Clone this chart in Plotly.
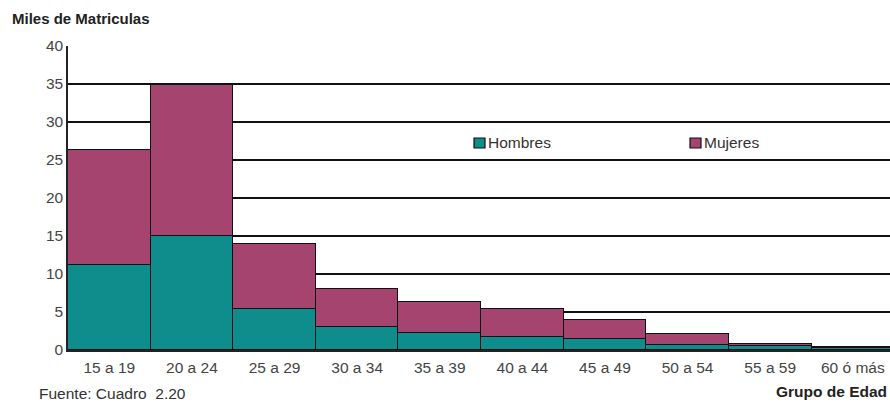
import plotly.graph_objects as go

# Enrollment (thousands) by age group, split by sex
grupos = ["15 a 19", "20 a 24", "25 a 29", "30 a 34", "35 a 39",
          "40 a 44", "45 a 49", "50 a 54", "55 a 59", "60 ó más"]
hombres = [11.2, 15.0, 5.4, 3.0, 2.2, 1.7, 1.4, 0.7, 0.5, 0.2]
mujeres = [15.1, 19.9, 8.5, 5.0, 4.1, 3.7, 2.5, 1.4, 0.3, 0.2]
y_ticks = [0, 5, 10, 15, 20, 25, 30, 35, 40]

COLOR_H = "#0f8c8c"
COLOR_M = "#a64470"
FONT = "Liberation Sans, Arial, sans-serif"
FS = 15.5

fig = go.Figure()
fig.add_trace(go.Bar(x=grupos, y=hombres, name="Hombres",
                     marker=dict(color=COLOR_H, line=dict(color="#111", width=1.5))))
fig.add_trace(go.Bar(x=grupos, y=mujeres, name="Mujeres",
                     marker=dict(color=COLOR_M, line=dict(color="#111", width=1.5))))

L, R, T, B = 68, 0, 46, 54
W, H = 890, 404

fig.update_layout(
    width=W, height=H,
    barmode="stack", bargap=0,
    showlegend=False,
    plot_bgcolor="white", paper_bgcolor="white",
    margin=dict(l=L, r=R, t=T, b=B),
    font=dict(family=FONT, size=FS, color="#333"),
    # the last age group runs off the right edge of the plot area
    xaxis=dict(showgrid=False, showline=True, linecolor="#222", linewidth=1.5,
               ticks="", tickfont=dict(size=FS, color="#444"),
               range=[-0.5, 9.45], ticklabelstandoff=3),
    yaxis=dict(range=[0, 40], tickvals=y_ticks, showgrid=True,
               gridcolor="#111", gridwidth=1.5, zeroline=False,
               showline=True, linecolor="#222", linewidth=1.5,
               ticks="", tickfont=dict(size=FS, color="#444"),
               ticklabelstandoff=0),
)

# Legend entries: small outlined squares followed by the series name
pw = W - L - R
def px_to_paper_x(px):
    return (px - L) / pw

ph = H - T - B
def px_to_paper_y(py):
    return (H - B - py) / ph

for name, color, x0 in [("Hombres", COLOR_H, 474), ("Mujeres", COLOR_M, 690)]:
    fig.add_shape(type="rect", xref="paper", yref="paper",
                  x0=px_to_paper_x(x0), x1=px_to_paper_x(x0 + 11),
                  y0=px_to_paper_y(148), y1=px_to_paper_y(138),
                  fillcolor=color, line=dict(color="#111", width=1.2))
    fig.add_annotation(text=name, xref="paper", yref="paper",
                       x=px_to_paper_x(x0 + 12), y=px_to_paper_y(142),
                       xanchor="left", yanchor="middle", showarrow=False,
                       font=dict(size=FS, color="#333"))

fig.add_annotation(text="<b>Miles de Matriculas</b>", xref="paper", yref="paper",
                   x=px_to_paper_x(10), y=px_to_paper_y(18),
                   xanchor="left", yanchor="middle", showarrow=False,
                   font=dict(size=15, color="#222"))
fig.add_annotation(text="Fuente: Cuadro  2.20", xref="paper", yref="paper",
                   x=px_to_paper_x(37), y=px_to_paper_y(393),
                   xanchor="left", yanchor="middle", showarrow=False,
                   font=dict(size=FS, color="#333"))
fig.add_annotation(text="<b>Grupo de Edad</b>", xref="paper", yref="paper",
                   x=px_to_paper_x(889), y=px_to_paper_y(391),
                   xanchor="right", yanchor="middle", showarrow=False,
                   font=dict(size=FS, color="#222"))

fig.write_html("out.html")
